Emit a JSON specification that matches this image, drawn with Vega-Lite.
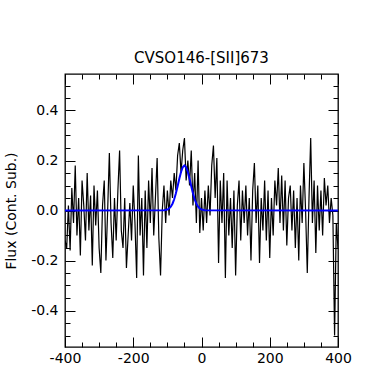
{
  "$schema": "https://vega.github.io/schema/vega-lite/v6.json",
  "width": 273,
  "height": 273,
  "autosize": {"type": "none"},
  "padding": {"left": 65, "top": 74, "right": 39, "bottom": 22},
  "background": "white",
  "title": {"text": "CVSO146-[SII]673", "font": "DejaVu Sans", "fontSize": 15, "fontWeight": "normal", "color": "#000", "offset": 8, "anchor": "middle"},
  "config": {
    "view": {"stroke": "#000", "strokeWidth": 1.3},
    "axis": {"grid": false, "domain": false, "labelFlush": false, "labelOverlap": false, "tickColor": "#000", "tickWidth": 1, "labelColor": "#000", "titleColor": "#000", "labelFont": "DejaVu Sans", "titleFont": "DejaVu Sans", "labelFontSize": 14, "titleFontSize": 14, "titleFontWeight": "normal"}
  },
  "datasets": {
    "spec": [
      {"v": -400, "flux": -0.12}, {"v": -395, "flux": -0.15}, {"v": -390, "flux": 0.02}, {"v": -385, "flux": -0.16},
      {"v": -380, "flux": 0.09}, {"v": -375, "flux": -0.05}, {"v": -370, "flux": 0.18}, {"v": -365, "flux": -0.10},
      {"v": -360, "flux": 0.05}, {"v": -355, "flux": -0.18}, {"v": -350, "flux": 0.12}, {"v": -345, "flux": 0.02},
      {"v": -340, "flux": -0.12}, {"v": -335, "flux": 0.15}, {"v": -330, "flux": -0.08}, {"v": -325, "flux": 0.06},
      {"v": -320, "flux": -0.22}, {"v": -315, "flux": 0.10}, {"v": -310, "flux": -0.06}, {"v": -305, "flux": 0.08},
      {"v": -300, "flux": -0.15}, {"v": -295, "flux": -0.25}, {"v": -290, "flux": 0.02}, {"v": -285, "flux": 0.12},
      {"v": -280, "flux": -0.20}, {"v": -275, "flux": 0.00}, {"v": -270, "flux": 0.23}, {"v": -265, "flux": -0.05},
      {"v": -260, "flux": -0.19}, {"v": -255, "flux": 0.05}, {"v": -250, "flux": -0.12}, {"v": -245, "flux": 0.08},
      {"v": -240, "flux": 0.24}, {"v": -235, "flux": -0.08}, {"v": -230, "flux": -0.15}, {"v": -225, "flux": 0.05},
      {"v": -220, "flux": -0.23}, {"v": -215, "flux": -0.10}, {"v": -210, "flux": 0.03}, {"v": -205, "flux": -0.12},
      {"v": -200, "flux": 0.10}, {"v": -195, "flux": -0.05}, {"v": -190, "flux": -0.27}, {"v": -185, "flux": 0.22},
      {"v": -180, "flux": -0.10}, {"v": -175, "flux": 0.05}, {"v": -170, "flux": -0.26}, {"v": -165, "flux": 0.08},
      {"v": -160, "flux": -0.15}, {"v": -155, "flux": 0.12}, {"v": -150, "flux": -0.05}, {"v": -145, "flux": 0.17},
      {"v": -140, "flux": -0.10}, {"v": -135, "flux": 0.05}, {"v": -130, "flux": 0.21}, {"v": -125, "flux": -0.11},
      {"v": -120, "flux": -0.26}, {"v": -115, "flux": 0.00}, {"v": -110, "flux": 0.10}, {"v": -105, "flux": -0.05},
      {"v": -100, "flux": 0.08}, {"v": -95, "flux": -0.02}, {"v": -90, "flux": 0.12}, {"v": -85, "flux": 0.05},
      {"v": -80, "flux": 0.15}, {"v": -75, "flux": 0.08}, {"v": -70, "flux": 0.22}, {"v": -65, "flux": 0.27},
      {"v": -60, "flux": 0.15}, {"v": -55, "flux": 0.24}, {"v": -50, "flux": 0.29}, {"v": -45, "flux": 0.12},
      {"v": -40, "flux": 0.20}, {"v": -35, "flux": 0.10}, {"v": -30, "flux": 0.24}, {"v": -25, "flux": 0.02},
      {"v": -20, "flux": 0.15}, {"v": -15, "flux": -0.05}, {"v": -10, "flux": 0.20}, {"v": -5, "flux": -0.09},
      {"v": 0, "flux": 0.05}, {"v": 5, "flux": -0.08}, {"v": 10, "flux": 0.08}, {"v": 15, "flux": -0.05},
      {"v": 20, "flux": 0.10}, {"v": 25, "flux": -0.02}, {"v": 30, "flux": 0.18}, {"v": 35, "flux": 0.26},
      {"v": 40, "flux": 0.05}, {"v": 45, "flux": 0.21}, {"v": 50, "flux": -0.21}, {"v": 55, "flux": 0.12},
      {"v": 60, "flux": -0.05}, {"v": 65, "flux": 0.15}, {"v": 70, "flux": -0.27}, {"v": 75, "flux": 0.12},
      {"v": 80, "flux": -0.10}, {"v": 85, "flux": 0.05}, {"v": 90, "flux": -0.15}, {"v": 95, "flux": 0.08},
      {"v": 100, "flux": -0.26}, {"v": 105, "flux": 0.02}, {"v": 110, "flux": 0.12}, {"v": 115, "flux": -0.12},
      {"v": 120, "flux": 0.08}, {"v": 125, "flux": -0.05}, {"v": 130, "flux": 0.10}, {"v": 135, "flux": -0.10},
      {"v": 140, "flux": 0.05}, {"v": 145, "flux": -0.20}, {"v": 150, "flux": 0.08}, {"v": 155, "flux": 0.19},
      {"v": 160, "flux": -0.05}, {"v": 165, "flux": 0.10}, {"v": 170, "flux": -0.21}, {"v": 175, "flux": 0.05},
      {"v": 180, "flux": -0.08}, {"v": 185, "flux": 0.12}, {"v": 190, "flux": -0.12}, {"v": 195, "flux": 0.08},
      {"v": 200, "flux": -0.19}, {"v": 205, "flux": 0.05}, {"v": 210, "flux": -0.10}, {"v": 215, "flux": 0.12},
      {"v": 220, "flux": 0.02}, {"v": 225, "flux": 0.17}, {"v": 230, "flux": -0.05}, {"v": 235, "flux": 0.14},
      {"v": 240, "flux": -0.08}, {"v": 245, "flux": 0.12}, {"v": 250, "flux": -0.14}, {"v": 255, "flux": 0.05},
      {"v": 260, "flux": 0.10}, {"v": 265, "flux": -0.08}, {"v": 270, "flux": 0.08}, {"v": 275, "flux": -0.15},
      {"v": 280, "flux": 0.05}, {"v": 285, "flux": -0.20}, {"v": 290, "flux": 0.10}, {"v": 295, "flux": -0.05},
      {"v": 300, "flux": 0.19}, {"v": 305, "flux": 0.00}, {"v": 310, "flux": -0.25}, {"v": 315, "flux": 0.05},
      {"v": 320, "flux": 0.29}, {"v": 325, "flux": -0.05}, {"v": 330, "flux": 0.12}, {"v": 335, "flux": -0.17},
      {"v": 340, "flux": 0.10}, {"v": 345, "flux": -0.08}, {"v": 350, "flux": 0.08}, {"v": 355, "flux": -0.10},
      {"v": 360, "flux": 0.13}, {"v": 365, "flux": 0.02}, {"v": 370, "flux": 0.10}, {"v": 375, "flux": -0.05},
      {"v": 380, "flux": 0.05}, {"v": 385, "flux": -0.02}, {"v": 390, "flux": -0.50}, {"v": 395, "flux": -0.05},
      {"v": 400, "flux": -0.15}
    ],
    "fit": [
      {"v": -400, "model": 0}, {"v": -110, "model": 0.0007}, {"v": -100, "model": 0.0038}, {"v": -95, "model": 0.0079},
      {"v": -90, "model": 0.0152}, {"v": -85, "model": 0.0272}, {"v": -80, "model": 0.0449}, {"v": -75, "model": 0.0686},
      {"v": -70, "model": 0.0971}, {"v": -65, "model": 0.1272}, {"v": -60, "model": 0.1543}, {"v": -55, "model": 0.1732},
      {"v": -50, "model": 0.18}, {"v": -45, "model": 0.1732}, {"v": -40, "model": 0.1543}, {"v": -35, "model": 0.1272},
      {"v": -30, "model": 0.0971}, {"v": -25, "model": 0.0686}, {"v": -20, "model": 0.0449}, {"v": -15, "model": 0.0272},
      {"v": -10, "model": 0.0152}, {"v": -5, "model": 0.0079}, {"v": 0, "model": 0.0038}, {"v": 10, "model": 0.0007},
      {"v": 400, "model": 0}
    ]
  },
  "resolve": {"axis": {"x": "independent", "y": "independent"}},
  "layer": [
    {
      "data": {"name": "spec"},
      "mark": {"type": "line", "color": "#000", "strokeWidth": 1.2, "clip": true},
      "encoding": {
        "x": {"field": "v", "type": "quantitative", "scale": {"domain": [-400, 400], "nice": false, "zero": false},
              "axis": {"orient": "bottom", "values": [-400, -200, 0, 200, 400], "tickSize": -10, "labelPadding": 14, "labelExpr": "datum.value < 0 ? '-' + format(-datum.value, 'd') : format(datum.value, 'd')", "title": "Velocity (km s⁻¹)", "titlePadding": 4}},
        "y": {"field": "flux", "type": "quantitative", "scale": {"domain": [-0.546, 0.546], "nice": false, "zero": false},
              "axis": {"orient": "left", "values": [-0.4, -0.2, 0, 0.2, 0.4], "tickSize": -10, "labelPadding": 17, "labelExpr": "datum.value < 0 ? '-' + format(-datum.value, '.1f') : format(datum.value, '.1f')", "title": "Flux (Cont. Sub.)", "titlePadding": 12}}
      }
    },
    {
      "data": {"name": "fit"},
      "mark": {"type": "line", "color": "#0000ff", "strokeWidth": 2, "clip": true},
      "encoding": {
        "x": {"field": "v", "type": "quantitative", "axis": {"orient": "top", "values": [-400, -200, 0, 200, 400], "tickSize": -10, "labels": false, "title": null}},
        "y": {"field": "model", "type": "quantitative", "axis": {"orient": "right", "values": [-0.4, -0.2, 0, 0.2, 0.4], "tickSize": -10, "labels": false, "title": null}}
      }
    },
    {
      "data": {"name": "fit"},
      "mark": {"type": "line", "opacity": 0},
      "encoding": {
        "x": {"field": "v", "type": "quantitative", "axis": {"orient": "bottom", "values": [-350, -300, -250, -150, -100, -50, 50, 100, 150, 250, 300, 350], "tickSize": -5, "labels": false, "title": null}},
        "y": {"field": "model", "type": "quantitative", "axis": {"orient": "left", "values": [-0.5, -0.45, -0.35, -0.3, -0.25, -0.15, -0.1, -0.05, 0.05, 0.1, 0.15, 0.25, 0.3, 0.35, 0.45, 0.5], "tickSize": -5, "labels": false, "title": null}}
      }
    },
    {
      "data": {"name": "fit"},
      "mark": {"type": "line", "opacity": 0},
      "encoding": {
        "x": {"field": "v", "type": "quantitative", "axis": {"orient": "top", "values": [-350, -300, -250, -150, -100, -50, 50, 100, 150, 250, 300, 350], "tickSize": -5, "labels": false, "title": null}},
        "y": {"field": "model", "type": "quantitative", "axis": {"orient": "right", "values": [-0.5, -0.45, -0.35, -0.3, -0.25, -0.15, -0.1, -0.05, 0.05, 0.1, 0.15, 0.25, 0.3, 0.35, 0.45, 0.5], "tickSize": -5, "labels": false, "title": null}}
      }
    }
  ]
}
